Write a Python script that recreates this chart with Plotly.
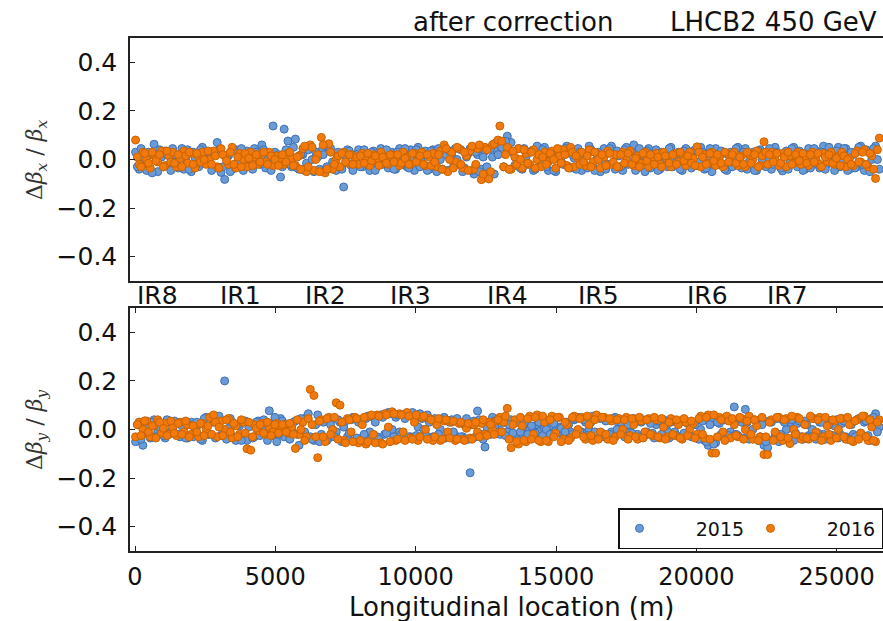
import plotly.graph_objects as go

# BPM longitudinal positions (m), first family
s_pos = [20, 150, 280, 415, 545, 680, 810, 945, 1075, 1210,
         1340, 1475, 1605, 1740, 1870, 2005, 2135, 2270, 2400, 2535,
         2665, 2800, 2930, 3065, 3195, 3330, 3460, 3595, 3725, 3860,
         3990, 4125, 4255, 4390, 4520, 4655, 4785, 4920, 5050, 5185,
         5315, 5450, 5580, 5715, 5845, 5980, 6110, 6245, 6375, 6510,
         6640, 6775, 6905, 7040, 7170, 7305, 7435, 7570, 7700, 7835,
         7965, 8100, 8230, 8365, 8495, 8630, 8760, 8895, 9025, 9160,
         9290, 9425, 9555, 9690, 9820, 9955, 10085, 10220, 10350, 10485,
         10615, 10750, 10880, 11015, 11145, 11280, 11410, 11545, 11675, 11810,
         11940, 12075, 12205, 12340, 12470, 12605, 12735, 12870, 13000, 13135,
         13265, 13400, 13530, 13665, 13795, 13930, 14060, 14195, 14325, 14460,
         14590, 14725, 14855, 14990, 15120, 15255, 15385, 15520, 15650, 15785,
         15915, 16050, 16180, 16315, 16445, 16580, 16710, 16845, 16975, 17110,
         17240, 17375, 17505, 17640, 17770, 17905, 18035, 18170, 18300, 18435,
         18565, 18700, 18830, 18965, 19095, 19230, 19360, 19495, 19625, 19760,
         19890, 20025, 20155, 20290, 20420, 20555, 20685, 20820, 20950, 21085,
         21215, 21350, 21480, 21615, 21745, 21880, 22010, 22145, 22275, 22410,
         22540, 22675, 22805, 22940, 23070, 23205, 23335, 23470, 23600, 23735,
         23865, 24000, 24130, 24265, 24395, 24530, 24660, 24795, 24925, 25060,
         25190, 25325, 25455, 25590, 25720, 25855, 25985, 26120, 26250, 26385,
         26520]

# BPM longitudinal positions (m), second family
s_pos_b = [85, 215, 345, 480, 610, 745, 875, 1010, 1140, 1275,
           1405, 1540, 1670, 1805, 1935, 2070, 2200, 2335, 2465, 2600,
           2730, 2865, 2995, 3130, 3260, 3395, 3525, 3660, 3790, 3925,
           4055, 4190, 4320, 4455, 4585, 4720, 4850, 4985, 5115, 5250,
           5380, 5515, 5645, 5780, 5910, 6045, 6175, 6310, 6440, 6575,
           6705, 6840, 6970, 7105, 7235, 7370, 7500, 7635, 7765, 7900,
           8030, 8165, 8295, 8430, 8560, 8695, 8825, 8960, 9090, 9225,
           9355, 9490, 9620, 9755, 9885, 10020, 10150, 10285, 10415, 10550,
           10680, 10815, 10945, 11080, 11210, 11345, 11475, 11610, 11740, 11875,
           12005, 12140, 12270, 12405, 12535, 12670, 12800, 12935, 13065, 13200,
           13330, 13465, 13595, 13730, 13860, 13995, 14125, 14260, 14390, 14525,
           14655, 14790, 14920, 15055, 15185, 15320, 15450, 15585, 15715, 15850,
           15980, 16115, 16245, 16380, 16510, 16645, 16775, 16910, 17040, 17175,
           17305, 17440, 17570, 17705, 17835, 17970, 18100, 18235, 18365, 18500,
           18630, 18765, 18895, 19030, 19160, 19295, 19425, 19560, 19690, 19825,
           19955, 20090, 20220, 20355, 20485, 20620, 20750, 20885, 21015, 21150,
           21280, 21415, 21545, 21680, 21810, 21945, 22075, 22210, 22340, 22475,
           22605, 22740, 22870, 23005, 23135, 23270, 23400, 23535, 23665, 23800,
           23930, 24065, 24195, 24330, 24460, 24595, 24725, 24860, 24990, 25125,
           25255, 25390, 25520, 25655, 25785, 25920, 26050, 26185, 26315, 26450]

# Horizontal beta-beating, 2015
bbx_2015 = [0.03, -0.04, 0.0, -0.045, 0.02, 0.063, -0.05, 0.01, 0.035, -0.025,
            0.045, -0.01, 0.02, -0.04, 0.04, -0.05, 0.01, -0.03, 0.05, -0.015,
            0.03, -0.035, 0.07, -0.053, -0.082, 0.015, -0.04, 0.04, 0.0, -0.045,
            0.035, -0.02, 0.045, 0.005, 0.06, -0.035, 0.02, 0.138, -0.01, -0.072,
            0.125, 0.076, -0.03, 0.084, -0.04, 0.02, -0.015, 0.045, -0.05, 0.01,
            0.035, -0.04, 0.05, -0.01, -0.045, 0.025, -0.113, 0.04, -0.025, 0.005,
            0.04, -0.03, 0.01, -0.045, 0.035, -0.02, 0.045, 0.0, -0.035, 0.03,
            -0.04, 0.045, 0.01, -0.03, 0.04, -0.045, 0.05, -0.01, 0.035, -0.04,
            0.04, -0.05, 0.0, 0.035, -0.045, 0.02, 0.045, -0.02, -0.05, 0.01,
            0.045, -0.06, 0.02, -0.04, 0.035, -0.055, 0.01, 0.04, 0.06, -0.03,
            0.096, 0.07, -0.025, 0.045, -0.04, 0.01, 0.03, -0.045, 0.055, -0.01,
            0.05, -0.045, 0.015, -0.05, 0.04, -0.02, 0.055, -0.035, 0.005, 0.045,
            -0.045, 0.02, 0.055, -0.03, 0.0, -0.05, 0.045, -0.02, 0.055, -0.04,
            0.015, -0.045, 0.05, -0.01, 0.06, -0.035, 0.025, -0.05, 0.045, 0.0,
            0.04, -0.04, 0.015, -0.03, 0.05, -0.015, 0.03, -0.045, 0.045, 0.005,
            0.035, -0.025, 0.05, -0.04, 0.0, -0.05, 0.045, -0.02, 0.025, -0.045,
            0.03, 0.0, 0.05, -0.035, 0.045, -0.01, 0.03, -0.045, 0.04, -0.02,
            0.005, -0.04, 0.05, -0.02, -0.047, 0.035, -0.01, 0.05, -0.03, 0.02,
            -0.04, 0.045, 0.0, 0.035, -0.035, 0.055, -0.02, 0.03, -0.045, 0.05,
            -0.01, 0.045, -0.04, 0.02, -0.03, 0.055, -0.045, 0.035, 0.0, 0.055,
            -0.04]
bbx_2015_b = [-0.03, 0.045, -0.015, 0.03, -0.055, 0.01, 0.04, -0.03, 0.02, -0.045,
              0.02, -0.035, 0.045, 0.0, -0.04, 0.03, -0.02, 0.04, -0.01, 0.03,
              -0.045, 0.02, 0.04, -0.03, 0.01, -0.05, 0.035, -0.015, 0.045, -0.02,
              0.01, -0.04, 0.03, -0.02, 0.04, 0.0, -0.045, 0.03, 0.02, -0.03,
              0.04, -0.02, 0.05, -0.035, 0.02, -0.045, 0.04, 0.0, 0.03, -0.04,
              0.02, -0.03, 0.045, -0.02, 0.03, -0.04, 0.01, 0.035, -0.045, 0.02,
              -0.03, 0.04, -0.01, 0.03, -0.045, 0.02, -0.02, 0.04, 0.01, -0.04,
              0.03, -0.02, 0.045, -0.035, 0.0, 0.04, -0.03, 0.02, -0.045, 0.035,
              -0.01, 0.045, -0.04, 0.02, 0.035, -0.03, 0.0, 0.04, -0.035, 0.025,
              -0.045, 0.03, -0.05, 0.01, -0.03, 0.045, -0.06, 0.02, 0.05, 0.075,
              -0.04, 0.03, 0.0, -0.035, 0.045, -0.02, 0.035, -0.04, 0.01, 0.04,
              -0.03, 0.02, -0.045, 0.035, -0.01, 0.045, -0.03, 0.02, -0.04, 0.03,
              0.01, -0.035, 0.04, -0.045, 0.03, 0.0, -0.04, 0.045, -0.02, 0.035,
              -0.03, 0.04, -0.02, 0.03, -0.045, 0.045, -0.01, 0.035, -0.035, 0.02,
              -0.045, 0.03, -0.01, 0.045, -0.03, 0.02, -0.04, 0.035, 0.0, -0.035,
              0.04, -0.01, 0.03, -0.035, 0.045, -0.02, 0.0, 0.035, -0.04, 0.02,
              -0.03, 0.045, -0.02, 0.03, -0.04, 0.02, -0.045, 0.035, 0.0, -0.03,
              0.045, -0.02, 0.03, -0.035, 0.02, -0.04, 0.045, -0.01, 0.035, -0.045,
              0.02, -0.035, 0.045, -0.02, 0.03, -0.04, 0.05, -0.01, 0.035, -0.03,
              0.045, -0.045, 0.03, -0.035, 0.05, -0.02, 0.04, -0.05, 0.045, 0.0]

# Horizontal beta-beating, 2016
bbx_2016 = [0.08, -0.02, 0.03, 0.0, -0.035, 0.02, -0.01, 0.035, -0.025, 0.015,
            0.03, -0.03, 0.005, 0.035, -0.015, 0.025, -0.035, 0.01, 0.03, -0.02,
            0.0, 0.035, -0.03, 0.045, 0.015, -0.02, 0.05, -0.035, 0.025, 0.0,
            -0.03, 0.03, 0.01, -0.02, 0.025, -0.01, 0.03, -0.025, 0.015, 0.0,
            -0.02, 0.025, 0.005, -0.025, 0.015, 0.045, -0.05, 0.06, -0.045, 0.02,
            0.091, -0.055, 0.065, -0.04, 0.0, -0.03, 0.03, -0.015, 0.02, 0.005,
            -0.02, 0.025, 0.0, -0.025, 0.02, -0.01, 0.03, 0.005, -0.02, 0.02,
            0.0, -0.025, 0.03, 0.01, -0.02, 0.025, -0.005, 0.03, -0.025, 0.01,
            0.025, -0.03, 0.035, 0.06, -0.05, 0.03, -0.01, 0.045, -0.035, 0.015,
            0.035, -0.04, 0.045, -0.083, 0.05, -0.08, 0.06, 0.07, 0.138, -0.03,
            0.05, -0.04, 0.01, 0.045, -0.035, 0.025, -0.02, 0.04, 0.0, -0.03,
            0.03, -0.01, 0.035, -0.035, 0.015, 0.04, -0.025, 0.05, -0.03, 0.005,
            0.03, -0.025, 0.04, -0.01, 0.025, -0.035, 0.01, 0.035, -0.02, 0.02,
            -0.03, 0.03, 0.0, 0.035, -0.025, 0.015, -0.015, 0.03, -0.03, 0.01,
            0.025, -0.02, 0.03, 0.0, -0.03, 0.025, -0.01, 0.02, -0.025, 0.03,
            0.005, 0.052, -0.03, 0.02, -0.015, 0.03, -0.025, 0.01, -0.03, 0.025,
            -0.01, 0.03, -0.025, 0.015, -0.03, 0.02, 0.0, 0.035, -0.025, 0.073,
            -0.02, 0.03, 0.0, -0.025, 0.025, -0.03, 0.015, -0.015, 0.03, -0.02,
            0.01, -0.025, 0.03, 0.0, -0.02, 0.025, -0.01, 0.03, -0.02, 0.015,
            0.03, -0.03, 0.005, -0.025, 0.035, -0.01, 0.04, -0.03, 0.015, -0.078,
            0.088]
bbx_2016_b = [0.01, -0.03, 0.025, -0.015, 0.03, -0.005, 0.02, -0.03, 0.035, -0.01,
              -0.015, 0.02, -0.03, 0.015, 0.03, -0.02, 0.025, -0.01, 0.0, 0.035,
              -0.02, 0.015, -0.035, 0.02, -0.005, 0.03, -0.02, 0.01, -0.03, 0.025,
              0.005, -0.025, 0.02, -0.01, 0.03, -0.02, 0.015, 0.0, -0.025, 0.02,
              -0.01, 0.03, -0.025, 0.01, -0.04, 0.055, -0.03, 0.05, 0.0, -0.05,
              0.06, -0.04, 0.03, -0.02, 0.015, 0.025, -0.01, 0.02, -0.02, 0.01,
              0.015, -0.015, 0.025, -0.005, 0.015, -0.025, 0.01, -0.015, 0.02, -0.01,
              0.02, -0.015, 0.005, -0.02, 0.025, -0.01, 0.015, -0.02, 0.02, -0.025,
              -0.01, 0.02, -0.04, 0.045, 0.0, -0.035, 0.05, -0.02, 0.03, -0.045,
              0.055, -0.02, 0.06, -0.06, 0.04, -0.05, 0.065, 0.08, 0.075, 0.02,
              -0.04, 0.035, -0.02, 0.0, 0.04, -0.015, 0.03, -0.035, 0.02, 0.01,
              -0.02, 0.025, 0.0, 0.045, -0.015, 0.02, -0.035, 0.03, 0.015, -0.02,
              -0.01, 0.015, -0.03, 0.03, 0.0, 0.02, -0.025, 0.025, -0.01, -0.03,
              0.02, -0.015, 0.025, -0.02, 0.005, -0.03, 0.025, -0.005, 0.02, -0.02,
              0.01, -0.03, 0.015, -0.015, 0.02, -0.02, 0.03, -0.005, 0.015, -0.015,
              -0.025, 0.03, 0.01, -0.02, 0.025, -0.005, 0.02, -0.015, 0.03, -0.01,
              0.02, -0.015, 0.01, -0.02, 0.03, -0.015, 0.02, -0.03, 0.015, 0.03,
              0.02, -0.01, 0.025, -0.015, 0.01, 0.03, -0.02, 0.02, -0.005, 0.025,
              -0.015, 0.02, -0.01, 0.025, -0.03, 0.01, 0.02, -0.015, 0.005, -0.025,
              0.015, 0.0, -0.02, 0.025, -0.01, 0.03, -0.02, 0.025, -0.04, 0.04]

# Vertical beta-beating, 2015
bby_2015 = [-0.05, 0.03, -0.065, 0.01, -0.035, 0.04, -0.01, 0.02, -0.035, 0.03,
            0.0, 0.025, -0.03, 0.01, -0.035, 0.03, -0.015, 0.02, -0.045, 0.05,
            -0.02, 0.03, 0.045, -0.025, 0.2, 0.005, 0.03, -0.045, 0.015, -0.03,
            -0.045, 0.02, -0.03, 0.035, 0.0, 0.03, 0.077, -0.025, -0.05, 0.045,
            -0.03, 0.02, 0.0, 0.035, -0.065, 0.035, 0.05, -0.03, -0.045, 0.06,
            -0.02, 0.04, -0.035, 0.045, -0.01, 0.03, 0.01, -0.03, 0.04, -0.045,
            0.03, -0.035, 0.045, -0.01, 0.05, -0.03, 0.06, -0.02, 0.07, 0.0,
            0.05, -0.01, 0.06, 0.065, -0.03, 0.055, 0.01, 0.045, -0.02, 0.03,
            -0.03, 0.035, 0.0, 0.05, -0.015, 0.04, -0.025, 0.03, -0.03, 0.045,
            -0.178, 0.035, 0.076, -0.02, -0.072, 0.03, 0.05, 0.02, -0.02, 0.03,
            -0.01, 0.04, -0.025, 0.03, -0.02, 0.01, 0.0, -0.01, 0.02, -0.005,
            0.005, -0.01, 0.015, -0.005, 0.01, -0.02, 0.03, -0.01, 0.04, 0.05,
            -0.01, 0.03, 0.0, 0.055, -0.02, 0.045, -0.03, 0.04, -0.01, 0.05,
            0.02, -0.02, 0.035, -0.01, 0.045, -0.02, 0.03, -0.025, 0.035, -0.015,
            0.02, -0.03, 0.04, -0.005, 0.03, -0.01, 0.025, -0.03, 0.035, -0.02,
            0.03, -0.035, 0.0, -0.045, -0.065, 0.03, -0.055, 0.025, -0.03, 0.04,
            -0.01, 0.093, -0.025, 0.03, 0.083, -0.04, 0.0, 0.035, -0.03, -0.065,
            -0.075, 0.03, -0.03, -0.05, 0.04, 0.0, 0.03, -0.045, 0.025, -0.03,
            0.035, -0.025, 0.0, -0.04, 0.03, -0.02, 0.04, -0.03, 0.015, -0.035,
            0.025, -0.03, 0.035, -0.02, 0.04, -0.015, 0.03, -0.025, 0.045, 0.065,
            0.01]
bby_2015_b = [0.02, -0.04, 0.035, -0.02, 0.03, -0.03, 0.01, -0.025, 0.04, -0.01,
              0.035, -0.02, 0.015, -0.035, 0.02, -0.03, 0.03, -0.04, 0.045, -0.02,
              0.05, -0.035, 0.055, -0.01, -0.04, 0.045, -0.03, 0.02, -0.045, 0.035,
              0.01, -0.035, 0.03, -0.025, 0.04, -0.045, 0.025, 0.05, -0.02, 0.035,
              0.01, -0.04, 0.03, -0.02, 0.045, -0.01, 0.065, -0.04, 0.02, -0.05,
              0.03, -0.045, 0.02, -0.03, 0.04, -0.05, 0.035, -0.015, 0.05, -0.035,
              0.04, -0.02, 0.055, -0.035, 0.03, -0.04, 0.05, -0.015, 0.065, -0.03,
              0.06, -0.02, 0.045, -0.03, 0.07, -0.025, 0.065, 0.0, 0.06, -0.035,
              0.045, -0.02, 0.04, -0.035, 0.03, -0.01, 0.045, -0.03, 0.02, -0.04,
              0.02, -0.03, 0.04, -0.04, 0.01, -0.02, 0.035, -0.01, 0.025, -0.025,
              0.02, -0.015, 0.03, -0.01, 0.025, -0.02, 0.015, -0.015, 0.03, -0.025,
              0.0, -0.02, 0.025, -0.015, 0.005, -0.01, 0.02, -0.02, 0.045, -0.01,
              0.04, -0.025, 0.03, -0.01, 0.05, -0.015, 0.035, -0.02, 0.045, 0.0,
              0.03, -0.03, 0.02, -0.015, 0.035, -0.03, 0.04, -0.01, 0.025, -0.035,
              0.035, -0.02, 0.015, -0.035, 0.04, -0.025, 0.03, -0.015, 0.025, -0.03,
              0.02, -0.04, 0.035, -0.05, 0.02, -0.06, 0.03, -0.02, 0.04, -0.025,
              0.035, -0.02, 0.045, -0.035, 0.03, -0.02, 0.04, -0.045, 0.02, -0.05,
              0.035, -0.04, 0.045, -0.02, 0.03, -0.045, 0.04, -0.015, 0.035, -0.04,
              0.02, -0.03, 0.045, -0.015, 0.03, -0.04, 0.02, -0.025, 0.04, -0.02,
              0.035, -0.04, 0.02, -0.03, 0.045, -0.025, 0.035, -0.045, 0.05, -0.01]

# Vertical beta-beating, 2016
bby_2016 = [-0.03, 0.03, 0.0, 0.035, -0.03, 0.015, 0.04, -0.015, 0.025, -0.02,
            0.01, -0.025, 0.03, -0.01, 0.02, -0.02, 0.005, -0.03, 0.025, 0.0,
            0.05, 0.06, -0.03, 0.035, 0.0, 0.045, -0.035, 0.015, -0.02, 0.03,
            -0.079, -0.085, 0.02, -0.005, 0.025, -0.02, 0.01, -0.01, 0.025, 0.0,
            0.02, -0.015, 0.01, -0.078, -0.02, 0.03, -0.03, 0.165, 0.14, -0.116,
            0.04, -0.05, 0.05, 0.0, 0.11, 0.10, -0.045, 0.045, -0.01, 0.05,
            -0.055, 0.02, -0.06, 0.055, -0.02, 0.06, -0.055, 0.065, 0.01, 0.073,
            -0.045, 0.065, -0.01, 0.07, -0.035, 0.03, -0.045, 0.05, 0.0, 0.045,
            -0.045, 0.02, -0.045, 0.035, -0.01, 0.03, -0.045, 0.025, -0.04, 0.005,
            -0.035, 0.02, -0.01, 0.025, -0.02, 0.03, 0.0, 0.035, 0.05, 0.03,
            0.087, -0.075, 0.04, -0.06, 0.015, -0.05, 0.055, -0.02, 0.06, -0.05,
            0.03, -0.05, 0.055, -0.015, 0.05, -0.04, 0.02, -0.035, 0.055, 0.0,
            0.05, -0.04, 0.02, -0.045, 0.06, -0.01, 0.05, -0.04, 0.035, -0.03,
            0.045, 0.0, 0.05, -0.025, 0.02, -0.04, 0.035, -0.01, 0.045, -0.025,
            0.04, -0.035, 0.01, -0.03, 0.045, -0.025, 0.02, -0.04, 0.03, 0.0,
            0.025, -0.02, 0.055, -0.035, 0.06, -0.097, -0.097, 0.05, -0.01, 0.055,
            -0.035, 0.02, -0.03, 0.045, 0.0, 0.055, -0.04, 0.015, -0.03, -0.103,
            -0.103, 0.04, -0.01, 0.05, -0.045, 0.045, -0.058, 0.0, 0.05, -0.04,
            0.02, -0.04, 0.045, -0.01, 0.05, -0.03, 0.015, -0.045, 0.035, 0.0,
            0.045, -0.04, 0.02, -0.05, 0.04, -0.015, 0.055, -0.045, 0.01, -0.05,
            0.04]
bby_2016_b = [0.02, -0.025, 0.035, -0.01, 0.015, -0.035, 0.03, 0.005, -0.025, 0.035,
              -0.015, 0.025, -0.02, 0.035, -0.03, 0.015, -0.01, 0.025, -0.025, 0.015,
              -0.02, 0.03, 0.01, -0.025, 0.04, -0.01, 0.025, -0.03, 0.04, -0.015,
              0.03, -0.03, 0.005, 0.02, -0.015, 0.03, -0.025, 0.02, -0.015, 0.02,
              -0.01, 0.025, -0.02, 0.04, 0.0, -0.045, 0.045, 0.02, -0.03, 0.035,
              -0.03, 0.045, -0.02, 0.05, -0.04, 0.03, -0.055, 0.04, -0.05, 0.045,
              -0.045, 0.05, -0.05, 0.06, -0.055, 0.055, -0.06, 0.06, -0.05, 0.065,
              -0.04, 0.06, -0.045, 0.055, -0.04, 0.06, -0.03, 0.055, -0.04, 0.04,
              -0.03, 0.045, -0.04, 0.04, -0.035, 0.035, -0.04, 0.03, -0.045, 0.025,
              -0.04, 0.03, -0.03, 0.04, -0.025, 0.02, -0.02, 0.04, -0.01, 0.055,
              -0.04, 0.02, -0.05, 0.05, -0.045, 0.045, -0.04, 0.05, -0.045, 0.055,
              -0.045, 0.04, -0.03, 0.05, -0.05, 0.03, -0.045, 0.05, -0.02, 0.045,
              -0.03, 0.055, -0.025, 0.04, -0.04, 0.05, -0.02, 0.045, -0.045, 0.04,
              -0.02, 0.04, -0.04, 0.045, -0.03, 0.05, -0.035, 0.04, -0.02, 0.05,
              -0.03, 0.045, -0.04, 0.03, -0.02, 0.04, -0.035, 0.045, -0.025, 0.035,
              -0.035, 0.045, -0.02, 0.05, -0.04, 0.06, -0.03, 0.04, -0.045, 0.035,
              0.045, -0.025, 0.05, -0.04, 0.035, -0.02, 0.04, -0.045, 0.05, -0.03,
              0.03, -0.045, 0.05, -0.03, 0.04, -0.035, 0.055, -0.02, 0.045, -0.03,
              -0.035, 0.055, -0.03, 0.04, -0.045, 0.05, -0.02, 0.04, -0.035, 0.045,
              -0.03, 0.05, -0.045, 0.035, -0.04, 0.055, -0.03, 0.04, -0.045, 0.03]

ir_names = ["IR8", "IR1", "IR2", "IR3", "IR4", "IR5", "IR6", "IR7"]
ir_label_px = [157, 240, 325, 410, 507, 598, 707, 787]

x_tickvals = [0, 5000, 10000, 15000, 20000, 25000]
x_ticktext = ["0", "5000", "10000", "15000", "20000", "25000"]
y_tickvals = [-0.4, -0.2, 0.0, 0.2, 0.4]
y_ticktext = ["\u22120.4", "\u22120.2", "0.0", "0.2", "0.4"]

years = ["2015", "2016"]
fill_cols = ["#6b9bd6", "#f27a0c"]
edge_cols = ["#3d6fb3", "#c96400"]
err_cols = ["#7fa8da", "#f59a45"]

W, H = 883, 621
L, R, T, B = 130, 0, 38, 70
plot_h = H - T - B
def py(p):
    return (H - B - p) / plot_h
def px(p):
    return (p - L) / (W - L - R)

fig = go.Figure()
panels = [([(bbx_2015, bbx_2015_b), (bbx_2016, bbx_2016_b)], "x", "y"),
          ([(bby_2015, bby_2015_b), (bby_2016, bby_2016_b)], "x2", "y2")]
for pi, (series, xa, ya) in enumerate(panels):
    for k, (vals_a, vals_b) in enumerate(series):
        fig.add_trace(go.Scatter(
            x=s_pos + s_pos_b, y=vals_a + vals_b, xaxis=xa, yaxis=ya, mode="markers",
            name="\u00a0\u00a0\u00a0\u00a0\u00a0\u00a0" + years[k],
            showlegend=(pi == 1),
            marker=dict(size=8, color=fill_cols[k], line=dict(color=edge_cols[k], width=1)),
            error_y=dict(type="constant", value=0.008, color=err_cols[k], thickness=1, width=3),
        ))

font_main = "DejaVu Sans, sans-serif"
axis_common = dict(showline=True, linecolor="#222", linewidth=1.5, showgrid=False,
                   zeroline=False, automargin=False)
tick_font = dict(size=25, color="#111")

fig.update_layout(
    width=W, height=H,
    margin=dict(l=L, r=R, t=T, b=B, autoexpand=False),
    plot_bgcolor="white", paper_bgcolor="white",
    font=dict(family=font_main, size=22, color="#111"),
    xaxis=dict(domain=[0, 1], range=[-178, 26650], mirror=True, ticks="", showticklabels=False,
               anchor="y", **axis_common),
    yaxis=dict(domain=[py(281), 1], range=[-0.5, 0.5], tickvals=y_tickvals, ticktext=y_ticktext,
               ticks="inside", ticklen=5, tickcolor="#222", tickfont=tick_font,
               ticklabelstandoff=6, anchor="x", **axis_common),
    xaxis2=dict(domain=[0, 1], range=[-178, 26650], mirror="ticks", ticks="inside", ticklen=5,
                tickcolor="#222", tickvals=x_tickvals, ticktext=x_ticktext,
                tickfont=dict(size=24, color="#111"),
                ticklabelstandoff=3, anchor="y2", **axis_common),
    yaxis2=dict(domain=[0, py(308)], range=[-0.5, 0.5], tickvals=y_tickvals, ticktext=y_ticktext,
                ticks="inside", ticklen=5, tickcolor="#222", tickfont=tick_font,
                ticklabelstandoff=6, anchor="x2", **axis_common),
    legend=dict(orientation="h", x=1, y=py(508), xanchor="right", yanchor="top",
                bordercolor="#111", borderwidth=1.5, bgcolor="white",
                font=dict(size=19), entrywidth=86, entrywidthmode="pixels",
                itemclick=False),
)

ann = []
ann.append(dict(text="after correction", x=px(513), y=py(22), xref="paper", yref="paper",
                showarrow=False, font=dict(size=26), xanchor="center", yanchor="middle"))
ann.append(dict(text="LHCB2 450 GeV", x=px(773), y=py(22), xref="paper", yref="paper",
                showarrow=False, font=dict(size=26), xanchor="center", yanchor="middle"))
ann.append(dict(text="Longitudinal location (m)", x=px(511), y=py(607), xref="paper", yref="paper",
                showarrow=False, font=dict(size=26), xanchor="center", yanchor="middle"))
for name, p in zip(ir_names, ir_label_px):
    ann.append(dict(text=name, x=px(p), y=py(295), xref="paper", yref="paper", showarrow=False,
                    font=dict(size=25), xanchor="center", yanchor="middle"))
ylab_font = dict(family="DejaVu Serif, serif", size=22, color="#333")
ann.append(dict(text="Δ<i>β</i><sub><i>x</i></sub> / <i>β</i><sub><i>x</i></sub>",
                x=px(36), y=py(160), xref="paper", yref="paper", textangle=-90,
                showarrow=False, font=ylab_font, xanchor="center", yanchor="middle"))
ann.append(dict(text="Δ<i>β</i><sub><i>y</i></sub> / <i>β</i><sub><i>y</i></sub>",
                x=px(36), y=py(430), xref="paper", yref="paper", textangle=-90,
                showarrow=False, font=ylab_font, xanchor="center", yanchor="middle"))
fig.update_layout(annotations=ann)

fig.write_html("out.html")
